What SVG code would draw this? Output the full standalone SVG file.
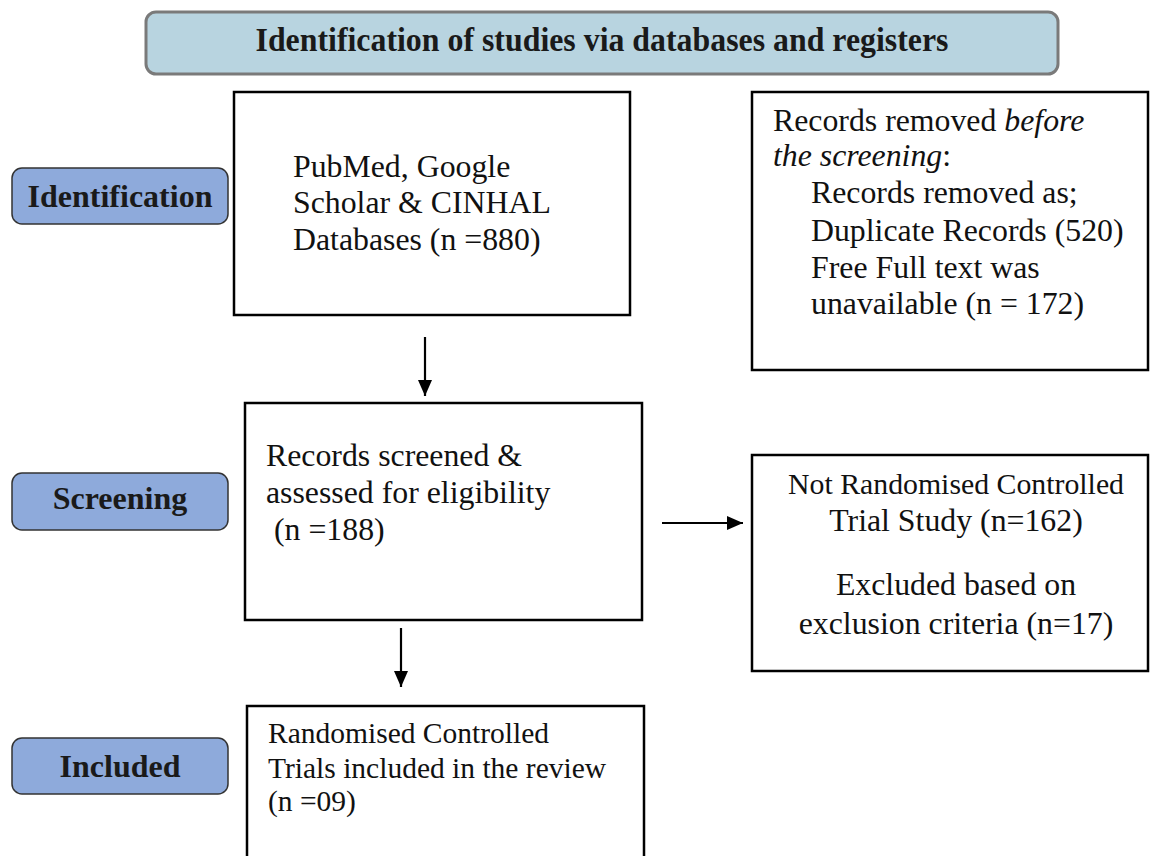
<svg xmlns="http://www.w3.org/2000/svg" width="1152" height="856" viewBox="0 0 1152 856">
<defs>
<marker id="ah" markerWidth="16" markerHeight="14" refX="16" refY="7" orient="auto" markerUnits="userSpaceOnUse" viewBox="0 0 16 14">
<path d="M0,0 L16,7 L0,14 z" fill="#000"/>
</marker>
<style>
.t{font-family:"Liberation Serif","Times New Roman",serif;font-size:31.8px;fill:#111}
.s{font-size:29.5px}
.b{font-family:"Liberation Serif","Times New Roman",serif;font-size:32px;font-weight:bold;fill:#1a1a1a}
.box{fill:#fff;stroke:#000;stroke-width:2.5}
.lab{fill:#8eaadb;stroke:#333;stroke-width:1.5}
.con{stroke:#000;stroke-width:2.2;fill:none;marker-end:url(#ah)}
</style>
</defs>
<rect width="1152" height="856" fill="#fff"/>
<g id="header">
<rect x="146" y="12" width="912" height="62" rx="10" fill="#b8d4e0" stroke="#7a7a7a" stroke-width="3"/>
<text class="b" x="602" y="51" style="font-size:33px" text-anchor="middle" textLength="693" lengthAdjust="spacingAndGlyphs">Identification of studies via databases and registers</text>
</g>
<g id="lab-identification">
<rect class="lab" x="12" y="168" width="216" height="56" rx="10"/>
<text class="b" x="120" y="207" text-anchor="middle">Identification</text>
</g>
<g id="lab-screening">
<rect class="lab" x="12" y="473" width="216" height="57" rx="10"/>
<text class="b" x="120" y="509" text-anchor="middle">Screening</text>
</g>
<g id="lab-included">
<rect class="lab" x="12" y="738" width="216" height="56" rx="10"/>
<text class="b" x="120" y="777" text-anchor="middle">Included</text>
</g>
<g id="n-databases">
<rect class="box" x="234" y="92" width="396" height="223"/>
<text class="t" x="293" y="177">PubMed, Google</text>
<text class="t" x="293" y="213">Scholar &amp; CINHAL</text>
<text class="t" x="293" y="250">Databases (n =880)</text>
</g>
<g id="n-removed">
<rect class="box" x="752" y="92" width="396" height="278"/>
<text class="t" x="773" y="131">Records removed <tspan font-style="italic">before</tspan></text>
<text class="t" x="773" y="166"><tspan font-style="italic">the screening</tspan>:</text>
<text class="t" x="811" y="203">Records removed as;</text>
<text class="t" x="811" y="241">Duplicate Records (520)</text>
<text class="t" x="811" y="278">Free Full text was</text>
<text class="t" x="811" y="314">unavailable (n = 172)</text>
</g>
<g id="n-screened">
<rect class="box" x="245" y="403" width="397" height="217"/>
<text class="t" x="266" y="466">Records screened &amp;</text>
<text class="t" x="266" y="503">assessed for eligibility</text>
<text class="t" x="274" y="540">(n =188)</text>
</g>
<g id="n-excluded">
<rect class="box" x="752" y="455" width="396" height="216"/>
<text class="t" x="956" y="494" text-anchor="middle" style="font-size:29.8px">Not Randomised Controlled</text>
<text class="t" x="956" y="531" text-anchor="middle">Trial Study (n=162)</text>
<text class="t" x="956" y="595" text-anchor="middle">Excluded based on</text>
<text class="t" x="956" y="634" text-anchor="middle">exclusion criteria (n=17)</text>
</g>
<g id="n-included">
<rect class="box" x="247" y="706" width="397" height="160"/>
<text class="t s" x="268" y="743">Randomised Controlled</text>
<text class="t s" x="268" y="778">Trials included in the review</text>
<text class="t s" x="268" y="811">(n =09)</text>
</g>
<g id="connectors">
<line class="con" x1="425" y1="337" x2="425" y2="396"/>
<line class="con" x1="662" y1="523" x2="743" y2="523"/>
<line class="con" x1="401" y1="628" x2="401" y2="687"/>
</g>
</svg>
